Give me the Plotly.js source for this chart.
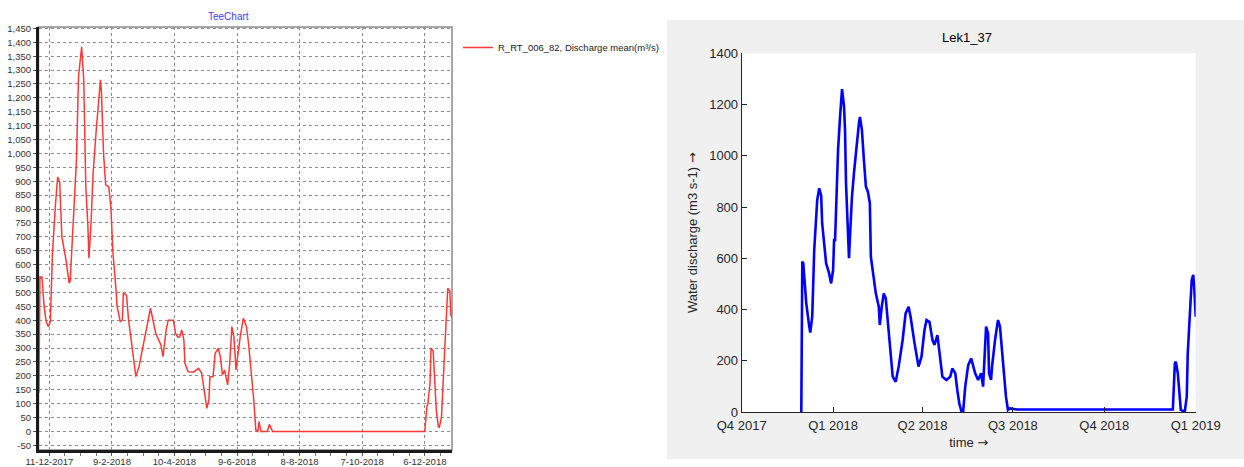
<!DOCTYPE html>
<html>
<head>
<meta charset="utf-8">
<script src="https://cdn.plot.ly/plotly-3.0.1.min.js"></script>
<style>
  html, body { margin: 0; padding: 0; background: #ffffff; }
  #chart { width: 1244px; height: 467px; }
</style>
</head>
<body>
<div id="chart"></div>
<script>
// Daily discharge, gauge R_RT_006_82 (m³/s)
const gaugeDates = [
  '2017-12-01','2017-12-02','2017-12-04','2017-12-06','2017-12-08','2017-12-10','2017-12-12','2017-12-14',
  '2017-12-17','2017-12-19','2017-12-21','2017-12-23','2017-12-27','2017-12-30','2017-12-31','2018-01-03',
  '2018-01-06','2018-01-08','2018-01-10','2018-01-11','2018-01-13','2018-01-15','2018-01-17','2018-01-18',
  '2018-01-20','2018-01-22','2018-01-25','2018-01-27','2018-01-29','2018-01-30','2018-02-01','2018-02-03',
  '2018-02-06','2018-02-08','2018-02-10','2018-02-12','2018-02-14','2018-02-17','2018-02-19','2018-02-20',
  '2018-02-23','2018-02-25','2018-03-01','2018-03-04','2018-03-07','2018-03-12','2018-03-18','2018-03-23',
  '2018-03-28','2018-03-30','2018-04-02','2018-04-04','2018-04-09','2018-04-11','2018-04-13','2018-04-15',
  '2018-04-17','2018-04-19','2018-04-20','2018-04-23','2018-04-28','2018-05-03','2018-05-06','2018-05-08',
  '2018-05-11','2018-05-13','2018-05-14','2018-05-17','2018-05-19','2018-05-22','2018-05-24','2018-05-26',
  '2018-05-28','2018-05-31','2018-06-02','2018-06-04','2018-06-06','2018-06-08','2018-06-10','2018-06-12',
  '2018-06-15','2018-06-18','2018-06-20','2018-06-23','2018-06-25','2018-06-27','2018-06-29','2018-06-30',
  '2018-07-02','2018-07-08','2018-07-10','2018-07-13','2018-12-06','2018-12-08','2018-12-09','2018-12-11',
  '2018-12-12','2018-12-14','2018-12-15','2018-12-17','2018-12-19','2018-12-20','2018-12-22','2018-12-24',
  '2018-12-26','2018-12-28','2018-12-30','2018-12-31','2019-01-01'
];
const gaugeValues = [
  140, 556, 555, 450, 395, 377, 395, 641,
  822, 915, 895, 700, 617, 533, 540, 760,
  977, 1276, 1360, 1384, 1265, 880, 737, 623,
  750, 930, 1085, 1168, 1265, 1217, 1000, 887,
  880, 808, 641, 556, 449, 395, 400, 497,
  490, 400, 293, 197, 233, 329, 443, 353,
  311, 269, 365, 400, 400, 353, 340, 340,
  365, 329, 245, 215, 213, 227, 210, 160,
  83, 113, 197, 197, 281, 299, 269, 203,
  221, 167, 245, 377, 340, 221, 293, 340,
  407, 377, 317, 209, 113, 5, 0, 35,
  0, 0, 25, 0, 0, 89, 100, 173,
  299, 290, 221, 77, 17, 15, 53, 197,
  365, 515, 505, 419, 410
];

// Modelled water discharge, Lek1_37 (m3 s-1)
const lekDates = [
  '2017-11-30','2017-11-30 12:00','2017-12-01','2017-12-02','2017-12-03','2017-12-05','2017-12-08','2017-12-09',
  '2017-12-11','2017-12-12','2017-12-13','2017-12-15','2017-12-16','2017-12-18','2017-12-20','2017-12-21',
  '2017-12-24','2017-12-25','2017-12-28','2017-12-30','2018-01-01','2018-01-02','2018-01-03','2018-01-04',
  '2018-01-06','2018-01-08','2018-01-09','2018-01-10','2018-01-12','2018-01-13','2018-01-14','2018-01-16',
  '2018-01-17','2018-01-18','2018-01-20','2018-01-22','2018-01-24','2018-01-27','2018-01-28','2018-01-30',
  '2018-02-01','2018-02-03','2018-02-05','2018-02-07','2018-02-08','2018-02-11','2018-02-13','2018-02-16',
  '2018-02-17','2018-02-19','2018-02-21','2018-02-23','2018-02-25','2018-02-28','2018-03-02','2018-03-05',
  '2018-03-08','2018-03-12','2018-03-15','2018-03-18','2018-03-20','2018-03-24','2018-03-28','2018-03-31',
  '2018-04-03','2018-04-05','2018-04-08','2018-04-11','2018-04-13','2018-04-16','2018-04-17','2018-04-19',
  '2018-04-21','2018-04-25','2018-04-29','2018-05-01','2018-05-04','2018-05-06','2018-05-08','2018-05-10',
  '2018-05-12','2018-05-14','2018-05-17','2018-05-20','2018-05-24','2018-05-27','2018-05-30','2018-06-01',
  '2018-06-03','2018-06-04','2018-06-06','2018-06-07','2018-06-09','2018-06-10','2018-06-13','2018-06-16',
  '2018-06-18','2018-06-20','2018-06-22','2018-06-24','2018-06-26','2018-06-28','2018-07-05','2018-08-15',
  '2018-10-01','2018-11-20','2018-12-09','2018-12-11','2018-12-12','2018-12-14','2018-12-16','2018-12-17',
  '2018-12-21','2018-12-23','2018-12-24','2018-12-26','2018-12-28','2018-12-29 12:00','2018-12-30 12:00','2019-01-01'
];
const lekValues = [
  0, 294, 587, 580, 515, 424, 333, 310,
  372, 489, 632, 762, 827, 873, 845, 736,
  632, 580, 541, 502, 554, 671, 671, 827,
  1023, 1152, 1231, 1260, 1192, 1101, 893, 736,
  600, 684, 840, 932, 1023, 1127, 1152, 1101,
  984, 880, 860, 815, 606, 528, 463, 411,
  340, 411, 463, 444, 346, 229, 138, 118,
  177, 281, 385, 411, 372, 268, 177, 216,
  320, 359, 352, 281, 262, 300, 268, 203,
  138, 125, 138, 170, 151, 86, 34, 5,
  5, 99, 183, 209, 151, 125, 151, 99,
  229, 333, 307, 151, 125, 177, 281, 359,
  333, 255, 151, 60, 8, 14, 10, 10,
  10, 10, 10, 190, 196, 151, 73, 8,
  1, 60, 229, 385, 515, 535, 489, 372
];

// Axis ticks
const gaugeYTicks = [-50, 0, 50, 100, 150, 200, 250, 300, 350, 400, 450, 500, 550, 600, 650, 700,
  750, 800, 850, 900, 950, 1000, 1050, 1100, 1150, 1200, 1250, 1300, 1350, 1400, 1450];
const gaugeXTickVals = ['2017-12-11','2018-02-09','2018-04-10','2018-06-09','2018-08-08','2018-10-07','2018-12-06'];
const gaugeXTickText = ['11-12-2017','9-2-2018','10-4-2018','9-6-2018','8-8-2018','7-10-2018','6-12-2018'];
const quarterTickVals = ['2017-10-01','2018-01-01','2018-04-01','2018-07-01','2018-10-01','2019-01-01'];
const quarterTickText = ['Q4 2017','Q1 2018','Q2 2018','Q3 2018','Q4 2018','Q1 2019'];

const W = 1244, H = 467;
const px = v => v / W;
const py = v => 1 - v / H;

const gaugeTrace = {
  x: gaugeDates, y: gaugeValues, xaxis: 'x', yaxis: 'y',
  type: 'scatter', mode: 'lines',
  name: 'R_RT_006_82, Discharge mean(m³/s)',
  line: { color: 'rgb(255,55,55)', width: 1.5 },
  showlegend: true
};
const lekTrace = {
  x: lekDates, y: lekValues, xaxis: 'x2', yaxis: 'y2',
  type: 'scatter', mode: 'lines', name: 'Lek1_37',
  line: { color: '#0000ff', width: 2.6 },
  showlegend: false
};

const teeFont = { family: 'Liberation Sans, Arial, sans-serif', size: 9.5, color: '#333333' };
const matFont = { family: 'Liberation Sans, Arial, sans-serif', size: 13, color: '#262626' };
const arrow = '<span style="font-family:DejaVu Sans">\u2192</span>';

const layout = {
  width: W, height: H,
  margin: { l: 0, r: 0, t: 0, b: 0 },
  paper_bgcolor: '#ffffff',
  plot_bgcolor: 'rgba(0,0,0,0)',
  showlegend: true,
  legend: {
    x: px(458), y: py(33), xanchor: 'left', yanchor: 'top',
    bgcolor: 'rgba(0,0,0,0)', borderwidth: 0,
    font: { family: 'Liberation Sans, Arial, sans-serif', size: 9.5, color: '#222222' }
  },
  xaxis: {
    domain: [px(38.5), px(452)], anchor: 'y', type: 'date',
    range: ['2017-11-30 15:00', '2019-01-01 02:00'],
    tickmode: 'array', tickvals: gaugeXTickVals, ticktext: gaugeXTickText,
    ticks: 'outside', ticklen: 3, tickcolor: '#555555', ticklabelstandoff: -2,
    minor: { tickmode: 'linear', tick0: '2017-12-11', dtick: 15 * 86400000,
             ticks: 'outside', ticklen: 3, tickcolor: '#777777', showgrid: false },
    showgrid: true, gridcolor: '#8c8c8c', griddash: 'dot', gridwidth: 1,
    showline: true, linecolor: '#1a1a1a', linewidth: 2.5,
    zeroline: false, tickfont: teeFont, fixedrange: true
  },
  yaxis: {
    domain: [py(450), py(27)], anchor: 'x',
    range: [-67, 1455],
    tickmode: 'array', tickvals: gaugeYTicks,
    ticktext: gaugeYTicks.map(v => v.toLocaleString('en-US')),
    ticks: 'outside', ticklen: 3, tickcolor: '#555555',
    showgrid: true, gridcolor: '#8c8c8c', griddash: 'dot', gridwidth: 1,
    showline: true, linecolor: '#1a1a1a', linewidth: 2.5,
    zeroline: false, tickfont: teeFont, fixedrange: true
  },
  xaxis2: {
    domain: [px(741.7), px(1195.7)], anchor: 'y2', type: 'date',
    range: ['2017-10-01', '2019-01-01'],
    tickmode: 'array', tickvals: quarterTickVals, ticktext: quarterTickText,
    ticks: 'inside', ticklen: 5, tickcolor: '#262626', ticklabelstandoff: 1,
    showgrid: false, showline: true, linecolor: '#262626', linewidth: 1,
    zeroline: false, tickfont: matFont, fixedrange: true,
    title: { text: 'time ' + arrow, font: matFont, standoff: 6 }
  },
  yaxis2: {
    domain: [py(412), py(53.3)], anchor: 'x2',
    range: [0, 1400], tickmode: 'linear', tick0: 0, dtick: 200,
    ticks: 'inside', ticklen: 5, tickcolor: '#262626',
    showgrid: false, showline: true, linecolor: '#262626', linewidth: 1,
    zeroline: false, tickfont: matFont, fixedrange: true,
    title: { text: 'Water discharge (m3 s-1) ' + arrow, font: matFont, standoff: 8 }
  },
  shapes: [
    // grey figure panel behind the Lek1_37 axes
    { type: 'rect', xref: 'paper', yref: 'paper', x0: px(667), x1: 1, y0: py(459), y1: py(20),
      fillcolor: '#f0f0f0', line: { width: 0 }, layer: 'below' },
    // white axes area
    { type: 'rect', xref: 'x2 domain', yref: 'y2 domain', x0: 0, x1: 1, y0: 0, y1: 1,
      fillcolor: '#ffffff', line: { width: 0 }, layer: 'below' },
    // thin frame of the TeeChart panel
    { type: 'rect', xref: 'x domain', yref: 'y domain', x0: 0, x1: 1, y0: 0, y1: 1,
      fillcolor: 'rgba(0,0,0,0)', line: { color: '#8a8a8a', width: 1.5 }, layer: 'below' }
  ],
  annotations: [
    { text: 'TeeChart', xref: 'paper', yref: 'paper', x: px(228.7), y: py(16.7),
      xanchor: 'center', yanchor: 'middle', showarrow: false,
      font: { family: 'Liberation Sans, Arial, sans-serif', size: 10, color: '#3d3dff' } },
    { text: 'Lek1_37', xref: 'paper', yref: 'paper', x: px(967), y: py(38),
      xanchor: 'center', yanchor: 'middle', showarrow: false,
      font: { family: 'Liberation Sans, Arial, sans-serif', size: 13, color: '#000000' } }
  ]
};

Plotly.newPlot('chart', [gaugeTrace, lekTrace], layout, { displayModeBar: false, staticPlot: true });
</script>
</body>
</html>
